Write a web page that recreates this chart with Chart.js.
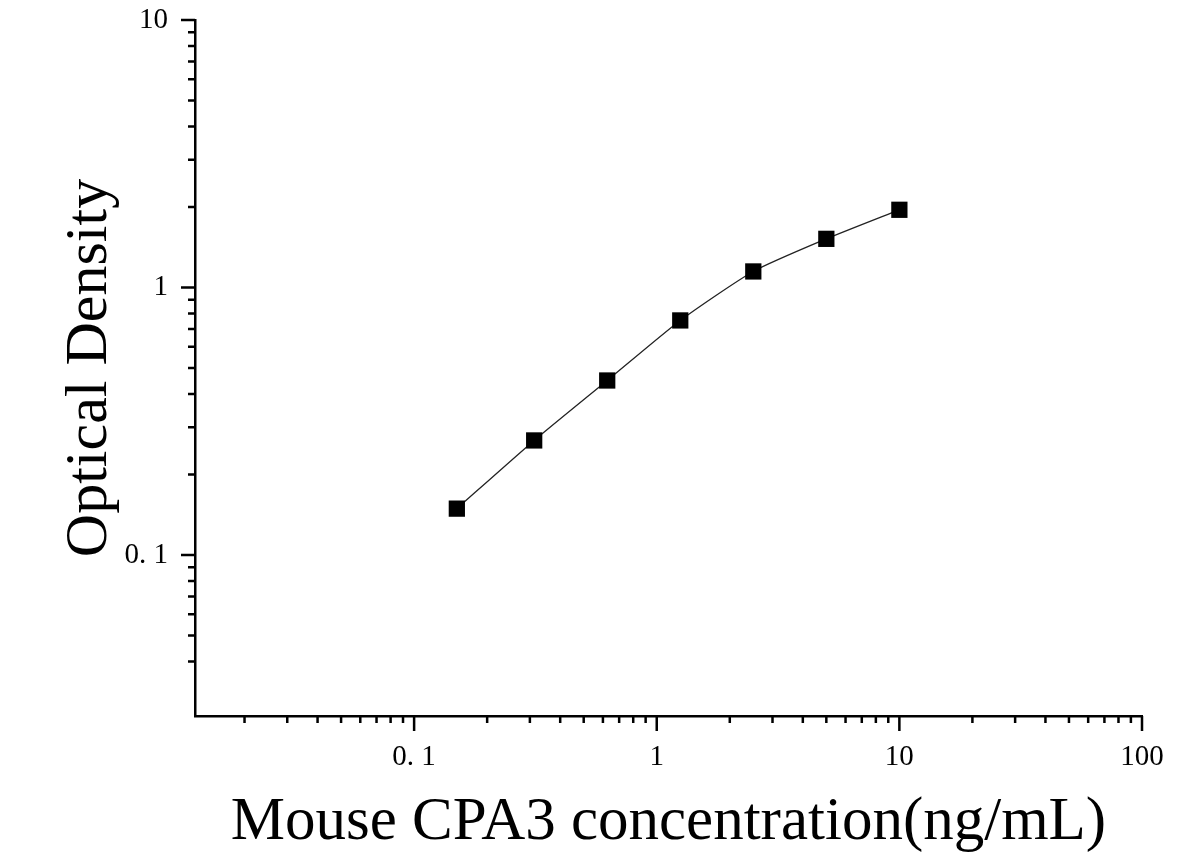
<!DOCTYPE html>
<html>
<head>
<meta charset="utf-8">
<script src="https://cdn.jsdelivr.net/npm/chart.js@4/dist/chart.umd.min.js"></script>
<style>
  html, body { margin: 0; padding: 0; background: #fff; }
  #wrap { width: 1186px; height: 867px; }
</style>
</head>
<body>
<div id="wrap"><canvas id="curveChart"></canvas></div>
<script>
// Стандартная кривая: концентрация (нг/мл) и оптическая плотность
const concentrations = [0.15, 0.3125, 0.625, 1.25, 2.5, 5, 10];
const densities = [0.149, 0.268, 0.449, 0.753, 1.148, 1.52, 1.952];

// Подписи делений
const xTickValues = [0.1, 1, 10, 100];
const xTickLabels = ['0. 1', '1', '10', '100'];
const yTickValues = [0.1, 1, 10];
const yTickLabels = ['0. 1', '1', '10'];

const serif = "'Liberation Serif', 'Times New Roman', serif";

// целое значащее число: 2, 3, ... 9 * 10^n
function isWholeStep(v) {
  const m = v / Math.pow(10, Math.floor(Math.log10(v) + 1e-9));
  return Math.abs(m - Math.round(m)) < 1e-6;
}

// Оставляем подписи только на декадах, мелкие деления запоминаем
function keepTicks(values) {
  return function (scale) {
    scale.minorValues = scale.ticks.map(t => t.value).filter(isWholeStep);
    scale.ticks = values.map(v => ({ value: v }));
  };
}

// Рисуем деления наружу: длинные на декадах, короткие между ними
const axisTicks = {
  id: 'axisTicks',
  afterDraw(chart) {
    const ctx = chart.ctx;
    const x = chart.scales.x;
    const y = chart.scales.y;
    ctx.save();
    ctx.strokeStyle = '#000';
    ctx.lineWidth = 2.5;
    ctx.beginPath();
    x.minorValues.forEach(v => {
      const px = x.getPixelForValue(v);
      ctx.moveTo(px, x.top);
      ctx.lineTo(px, x.top + 7);
    });
    x.ticks.forEach(t => {
      const px = x.getPixelForValue(t.value);
      ctx.moveTo(px, x.top);
      ctx.lineTo(px, x.top + 15);
    });
    y.minorValues.forEach(v => {
      const py = y.getPixelForValue(v);
      ctx.moveTo(y.right, py);
      ctx.lineTo(y.right - 7, py);
    });
    y.ticks.forEach(t => {
      const py = y.getPixelForValue(t.value);
      ctx.moveTo(y.right, py);
      ctx.lineTo(y.right - 14, py);
    });
    ctx.stroke();
    ctx.restore();
  }
};

const ctx = document.getElementById('curveChart').getContext('2d');

new Chart(ctx, {
  type: 'scatter',
  data: {
    datasets: [{
      data: concentrations.map((c, i) => ({ x: c, y: densities[i] })),
      showLine: true,
      tension: 0.2,
      borderColor: '#222',
      borderWidth: 1.3,
      pointStyle: 'rect',
      pointRadius: 11.5,
      pointHoverRadius: 11.5,
      pointBackgroundColor: '#000',
      pointBorderColor: '#000',
      pointBorderWidth: 0
    }]
  },
  options: {
    responsive: true,
    maintainAspectRatio: false,
    animation: false,
    layout: { padding: { top: 20, right: 44, left: 0, bottom: 0 } },
    plugins: {
      legend: { display: false },
      tooltip: { enabled: false }
    },
    scales: {
      x: {
        type: 'logarithmic',
        position: 'bottom',
        min: 0.0125,
        max: 100,
        // отступ подписей задаём длиной (невидимых) делений
        grid: { display: false, drawTicks: true, tickLength: 24 },
        border: { display: true, color: '#000', width: 2.5 },
        afterBuildTicks: keepTicks(xTickValues),
        afterFit(scale) { scale.height = 151; },
        ticks: {
          autoSkip: false,
          maxRotation: 0,
          padding: 0,
          color: '#000',
          font: { family: serif, size: 29 },
          callback: (value, index) => xTickLabels[index]
        },
        title: {
          display: true,
          text: 'Mouse CPA3 concentration(ng/mL)',
          color: '#000',
          font: { family: serif, size: 61, lineHeight: 1 },
          padding: { top: 0, bottom: 14 }
        }
      },
      y: {
        type: 'logarithmic',
        position: 'left',
        min: 0.025,
        max: 10,
        grid: { display: false, drawTicks: true, tickLength: 27 },
        border: { display: true, color: '#000', width: 2.5 },
        afterBuildTicks: keepTicks(yTickValues),
        afterFit(scale) { scale.width = 195; },
        ticks: {
          autoSkip: false,
          padding: 0,
          color: '#000',
          font: { family: serif, size: 29 },
          callback: (value, index) => yTickLabels[index]
        },
        title: {
          display: true,
          text: 'Optical Density',
          color: '#000',
          font: { family: serif, size: 60, lineHeight: 1 },
          padding: { top: 60, bottom: 0 }
        }
      }
    }
  },
  plugins: [axisTicks]
});
</script>
</body>
</html>
